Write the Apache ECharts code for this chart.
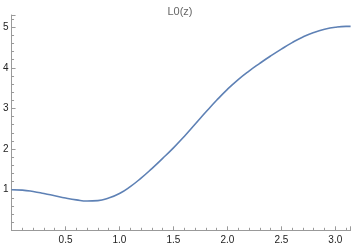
<!DOCTYPE html>
<html><head><meta charset="utf-8">
<script src="https://cdn.jsdelivr.net/npm/echarts@6/dist/echarts.min.js"></script>
<style>html,body{margin:0;padding:0;background:#fff}#c{width:360px;height:248px}</style>
</head><body><div id="c"></div>
<script>
const title = 'L0(z)';
const zValues = [0, 0.1, 0.2, 0.3, 0.4, 0.5, 0.6, 0.7, 0.8, 0.9, 1.0, 1.1, 1.2, 1.3, 1.4, 1.5, 1.6, 1.7, 1.8, 1.9, 2.0, 2.1, 2.2, 2.3, 2.4, 2.5, 2.6, 2.7, 2.8, 2.9, 3.0, 3.1, 3.14159];
const L0Values = [1.00, 0.99, 0.955, 0.905, 0.85, 0.795, 0.75, 0.72, 0.73, 0.795, 0.905, 1.075, 1.285, 1.52, 1.77, 2.03, 2.31, 2.61, 2.91, 3.20, 3.47, 3.71, 3.92, 4.11, 4.29, 4.46, 4.62, 4.76, 4.87, 4.95, 5.00, 5.02, 5.02];
const xTickLabels = ['0.5', '1.0', '1.5', '2.0', '2.5', '3.0'];
const yTickLabels = ['1', '2', '3', '4', '5'];

const data = zValues.map((z, i) => [z, L0Values[i]]);
const chart = echarts.init(document.getElementById('c'), null, {renderer: 'canvas'});
const axisCol = '#9a9a9a';
chart.setOption({
  animation: false,
  title: {text: title, left: 'center', top: 1, textStyle: {fontFamily: 'Liberation Sans, Arial', fontSize: 11, fontWeight: 'normal', color: '#666'}},
  grid: {left: 9.4, right: 9.4, top: 15, bottom: 17.7, containLabel: false},
  xAxis: {
    type: 'value', min: 0, max: Math.PI, interval: 0.5,
    axisLine: {lineStyle: {color: axisCol, width: 1}},
    axisTick: {inside: true, length: 4, lineStyle: {color: axisCol}},
    minorTick: {show: true, splitNumber: 5, length: 2.5, lineStyle: {color: axisCol}},
    splitLine: {show: false},
    axisLabel: {margin: 5, fontSize: 10, color: '#222', fontFamily: 'Liberation Sans, Arial', showMinLabel: false,
      formatter: v => { const s = v.toFixed(1); return xTickLabels.includes(s) && Math.abs(v*2 - Math.round(v*2)) < 1e-6 ? s : ''; }}
  },
  yAxis: {
    type: 'value', min: 0, max: 5.3, interval: 1,
    axisLine: {show: true, lineStyle: {color: axisCol, width: 1}},
    axisTick: {show: true, inside: true, length: 4, lineStyle: {color: axisCol}},
    minorTick: {show: true, splitNumber: 5, length: 2.5, lineStyle: {color: axisCol}},
    splitLine: {show: false},
    axisLabel: {margin: 3, fontSize: 10, color: '#222', fontFamily: 'Liberation Sans, Arial', showMinLabel: false,
      formatter: v => { const s = String(Math.round(v)); return yTickLabels.includes(s) && Math.abs(v - Math.round(v)) < 1e-6 ? s : ''; }}
  },
  series: [{
    type: 'line', data: data, smooth: 0.5, showSymbol: false,
    lineStyle: {color: '#5E81B5', width: 1.6}
  }]
});
</script></body></html>
